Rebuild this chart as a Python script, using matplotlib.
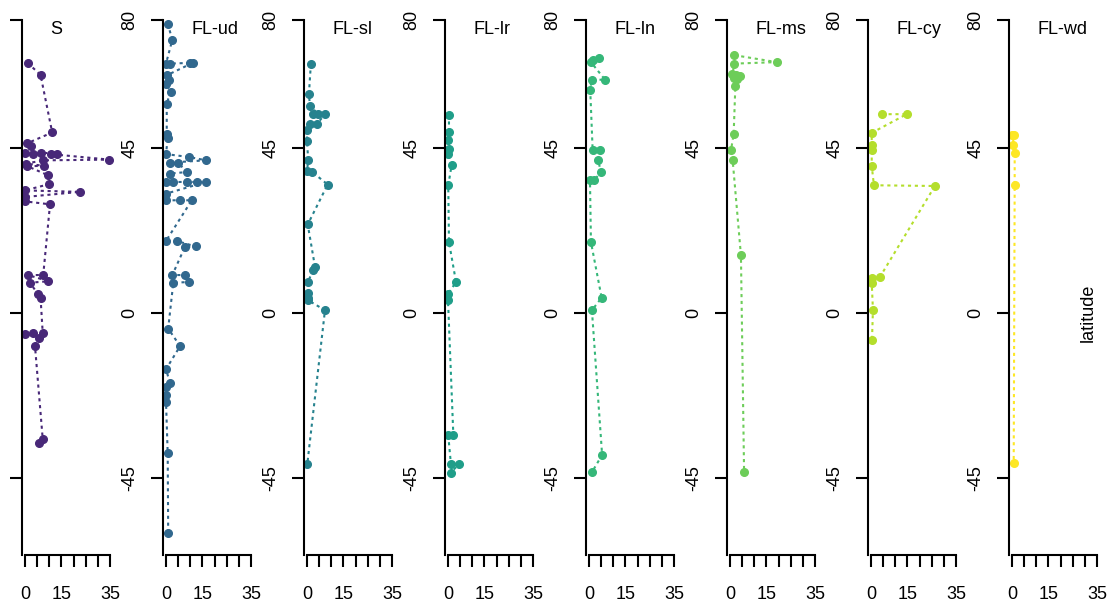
import matplotlib
matplotlib.use("Agg")
import matplotlib.pyplot as plt

plt.rcParams['font.family'] = ['Liberation Sans', 'DejaVu Sans']

names = ["S", "FL-ud", "FL-sl", "FL-lr", "FL-ln", "FL-ms", "FL-cy", "FL-wd"]
colors = ["#482878", "#31688E", "#26828E", "#1F9E89", "#35B779", "#6DCD59", "#B4DE2C", "#FDE725"]

s_lat = [68.3, 65.0, 49.3, 46.3, 45.6, 43.8, 43.5, 43.8, 43.5, 43.4, 41.9, 41.7, 40.8, 40.2, 40.1,
         37.6, 35.2, 33.5, 33.1, 31.7, 30.5, 29.7, 10.4, 10.4, 8.7, 8.3, 5.1, 4.2,
         -5.5, -5.8, -5.5, -6.7, -8.9, -34.4, -35.5]
s_val = [1.1, 6.4, 11.2, 0.7, 2.5, 0.0, 3.4, 6.6, 13.0, 10.6, 34.7, 7.5, 0.3, 7.8, 1.0,
         9.6, 9.9, 0.0, 22.6, 0.0, 0.0, 10.3, 7.5, 1.4, 9.6, 2.0, 5.5, 6.4,
         7.3, 0.0, 3.4, 5.9, 4.1, 7.3, 5.8]

ud_lat = [79.0, 74.6, 68.1, 68.1, 68.3, 68.3, 64.9, 63.5, 62.6, 60.4, 57.2, 49.0, 47.8, 43.4, 42.6,
          41.7, 41.1, 41.0, 38.5, 38.1, 35.8, 35.8, 35.8, 35.8, 35.8, 32.6, 30.8, 30.8, 30.8,
          19.7, 19.7, 18.2, 18.1, 10.4, 10.4, 8.5, 8.3, -4.2, -9.0, -15.3, -19.0, -20.1, -22.2,
          -24.2, -38.3, -60.1]
ud_val = [0.7, 2.6, 0.0, 1.6, 9.9, 11.0, 0.3, 1.4, 0.0, 1.9, 0.3, 0.3, 0.7, 0.0, 9.6,
          16.5, 1.6, 5.1, 8.5, 1.6, 0.0, 3.0, 8.5, 12.9, 16.5, 0.0, 0.0, 5.8, 10.6,
          0.0, 4.4, 12.2, 7.8, 2.6, 7.8, 9.6, 3.0, 0.9, 5.8, 0.0, 1.6, 0.0, 0.0,
          0.0, 0.7, 0.9]

sl_lat = [68.1, 59.9, 56.5, 54.4, 54.3, 54.3, 51.7, 51.6, 49.9, 47.0, 41.7, 38.8, 38.5, 35.1,
          24.2, 12.6, 11.7, 8.5, 5.4, 4.2, 3.5, 0.8, -41.3]
sl_val = [1.6, 0.8, 1.2, 4.6, 2.6, 7.4, 4.2, 1.2, 0.0, 0.0, 0.5, 0.0, 2.2, 8.5,
          0.3, 3.3, 2.6, 0.3, 0.5, 0.6, 0.5, 7.4, 0.1]

lr_lat = [54.2, 49.5, 47.2, 44.9, 43.5, 40.4, 34.9, 19.4, 8.5, 5.2, 3.5, -33.3, -33.3, -41.2, -41.2, -43.5]
lr_val = [0.4, 0.4, 0.0, 0.4, 0.1, 1.5, 0.1, 0.4, 3.3, 0.0, 0.0, 2.2, 0.1, 1.2, 4.5, 1.2]

ln_lat = [69.5, 69.0, 68.5, 63.7, 63.7, 61.0, 44.5, 44.5, 41.7, 38.5, 36.3, 36.3, 19.4, 4.2, 0.8, -38.7, -43.4]
ln_val = [4.3, 1.8, 0.8, 6.6, 1.1, 0.5, 1.5, 4.7, 3.8, 4.9, 2.2, 0.4, 0.8, 5.2, 1.2, 5.4, 1.2]

ms_lat = [70.4, 68.5, 68.1, 65.2, 65.0, 64.6, 64.3, 64.0, 61.9, 48.8, 44.5, 41.7, 15.8, -43.4]
ms_val = [1.8, 19.2, 1.8, 1.0, 2.5, 4.0, 1.5, 3.0, 2.2, 1.5, 0.4, 1.1, 4.5, 5.8]

cy_lat = [54.3, 54.3, 49.2, 46.0, 44.5, 40.2, 34.9, 34.7, 9.9, 9.6, 8.3, 0.8, -7.4]
cy_val = [4.4, 14.7, 0.3, 0.3, 0.3, 0.3, 1.2, 26.3, 3.7, 0.3, 0.3, 0.8, 0.4]

wd_lat = [48.6, 48.6, 45.9, 43.7, 35.1, -40.8]
wd_val = [0.0, 0.8, 0.3, 1.1, 1.1, 0.7]

lats = [s_lat, ud_lat, sl_lat, lr_lat, ln_lat, ms_lat, cy_lat, wd_lat]
vals = [s_val, ud_val, sl_val, lr_val, ln_val, ms_val, cy_val, wd_val]
lat_ticks = [-45, 0, 45, 80]

W, H = 1111, 608
fig = plt.figure(figsize=(W / 100, H / 100), dpi=100)

px_per_x = 2.43
xmin, xmax = -1.23, 36.0
ymin, ymax = -66, 80
top_px, bot_px = 20, 555

for k in range(8):
    zero_px = 25 + 141 * k
    left_px = zero_px + xmin * px_per_x
    width_px = (xmax - xmin) * px_per_x
    ax = fig.add_axes([left_px / W, (H - bot_px) / H, width_px / W, (bot_px - top_px) / H])
    ax.patch.set_alpha(0)
    ax.plot(vals[k], lats[k], color=colors[k], lw=1.5, linestyle=(0, (1.5, 1.8)),
            marker='o', markersize=5.5, clip_on=False)
    ax.set_xlim(xmin, xmax)
    ax.set_ylim(ymin, ymax)
    for s in ['top', 'right']:
        ax.spines[s].set_visible(False)
    ax.spines['left'].set_bounds(ymin, ymax)
    ax.spines['bottom'].set_bounds(0, 35)
    ax.spines['left'].set_linewidth(1.5)
    ax.spines['bottom'].set_linewidth(1.5)
    ax.set_yticks(lat_ticks)
    # first panel's labels fall off the left edge in the original
    if k == 0:
        ax.set_yticklabels([''] * len(lat_ticks))
    else:
        ax.set_yticklabels([str(t) for t in lat_ticks], rotation=90, va='center')
    ax.set_xticks(range(0, 36, 5))
    ax.set_xticklabels(['0', '', '', '15', '', '', '', '35'])
    ax.tick_params(axis='both', direction='out', length=8.5, width=1.5, labelsize=13)
    ax.tick_params(axis='y', pad=9)
    ax.tick_params(axis='x', pad=13.5)
    ax.text(10.3, 77.5, names[k], ha='left', va='center', fontsize=13)

fig.text(1088 / W, 1 - 313 / H, 'latitude', rotation=90, ha='center', va='center', fontsize=13)

fig.savefig('out.png', dpi=100)
